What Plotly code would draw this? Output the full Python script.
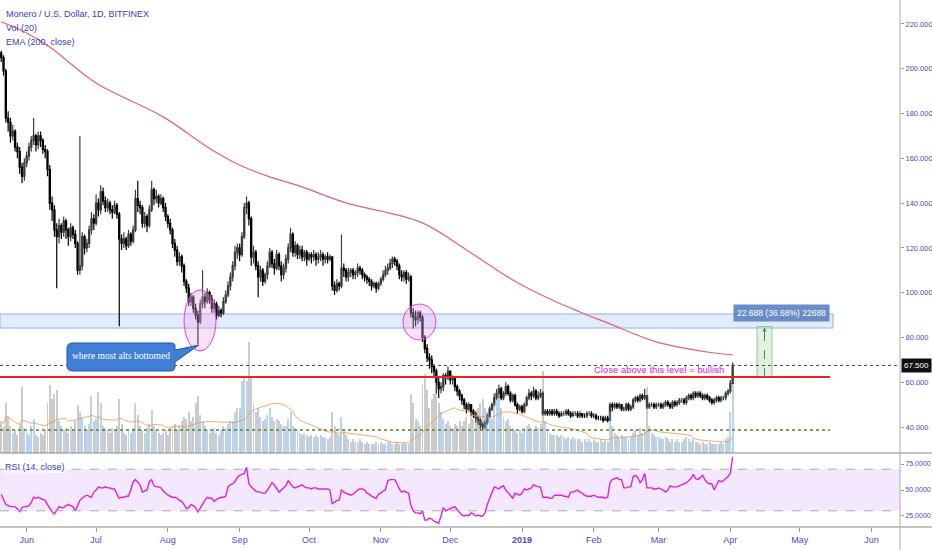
import pandas as pd
import plotly.graph_objects as go

# daily XMR/USD candles, Bitfinex, starting 2018-05-21
first_open = 207
closes = [
    205, 199, 178, 176, 170, 172, 165, 163, 156, 152,
    158, 161, 165, 168, 170, 166, 170, 168, 164, 163,
    155, 140, 137, 128, 125, 130, 127, 132, 128, 125,
    129, 126, 122, 110, 112, 125, 120, 122, 128, 133,
    131, 140, 137, 145, 141, 138, 140, 137, 136, 139,
    135, 124, 122, 124, 121, 126, 123, 128, 142, 139,
    138, 131, 134, 130, 137, 146, 142, 143, 140, 142,
    138, 134, 131, 128, 122, 119, 114, 116, 112, 105,
    102, 96, 98, 93, 90, 87, 95, 98, 96, 100,
    97, 93, 95, 90, 92, 91, 96, 99, 103, 107,
    112, 118, 120, 117, 125, 138, 140, 133, 116, 118,
    112, 107, 110, 105, 108, 112, 118, 113, 111, 117,
    112, 108, 111, 115, 120, 126, 118, 121, 117, 119,
    116, 118, 115, 117, 116, 117, 115, 116, 117, 115,
    116, 115, 116, 103, 101, 104, 103, 111, 110, 107,
    109, 110, 108, 109, 111, 110, 108, 107, 106, 105,
    103, 104, 102, 104, 106, 108, 110, 111, 113, 115,
    114, 112, 108, 107, 109, 106, 107, 91, 89, 88,
    91, 89, 80, 75, 71, 70, 67, 65, 60, 57,
    58, 63, 62, 65, 61, 62, 58, 56, 54, 52,
    50, 48, 50, 47, 46, 44, 43, 41, 40, 42,
    45, 48, 50, 53, 55, 57, 53, 55, 58, 55,
    52, 54, 50, 48, 49, 47, 50, 53, 55, 54,
    56, 53, 54, 55, 46, 47, 46, 47, 46, 47,
    46, 45, 46, 46, 47, 46, 45, 46, 46, 45,
    46, 45, 45, 46, 46, 45, 45, 44, 44, 44,
    43, 44, 43, 50, 49, 50, 49, 50, 48, 48,
    50, 48, 49, 52, 53, 52, 54, 53, 54, 49,
    50, 50, 49, 50, 50, 49, 50, 51, 50, 49,
    51, 50, 51, 52, 52, 51, 53, 54, 53, 55,
    54, 55, 54, 53, 54, 53, 52, 51, 52, 53,
    52, 53, 53, 55, 56, 59.5, 67.5,
]
highs = [
    208, 206, 200, 181, 178, 175, 173, 167, 165, 158,
    160, 163, 167, 170, 178, 171, 172, 172, 169, 166,
    164, 157, 143, 139, 131, 133, 131, 134, 133, 129,
    131, 130, 128, 123, 170, 127, 126, 124, 130, 136,
    135, 144, 142, 148, 147, 143, 142, 141, 139, 141,
    140, 136, 126, 127, 125, 128, 127, 130, 146, 150,
    141, 139, 136, 135, 139, 150, 147, 146, 144, 144,
    143, 140, 135, 133, 129, 124, 121, 118, 117, 113,
    106, 104, 100, 99, 95, 92, 97, 110, 100, 102,
    101, 99, 97, 96, 94, 93, 98, 101, 105, 109,
    114, 121, 122, 122, 127, 140, 143, 141, 134, 121,
    119, 114, 112, 111, 109, 114, 120, 119, 115, 119,
    118, 114, 113, 117, 122, 129, 127, 123, 122, 121,
    121, 119, 119, 118, 118, 119, 118, 118, 119, 118,
    117, 118, 117, 116, 105, 106, 105, 126, 113, 111,
    111, 111, 111, 110, 113, 112, 111, 109, 108, 107,
    106, 105, 105, 105, 107, 110, 112, 113, 115, 116,
    116, 115, 113, 110, 110, 110, 109, 108, 93, 92,
    92, 92, 90, 81, 77, 73, 72, 68, 66, 62,
    60, 64, 64, 67, 65, 63, 62, 59, 57, 55,
    53, 51, 51, 50, 48, 47, 45, 44, 42, 43,
    46, 49, 51, 55, 57, 59, 58, 56, 60, 59,
    56, 55, 55, 51, 50, 50, 51, 54, 57, 56,
    58, 57, 56, 57, 56, 48, 48, 48, 48, 48,
    48, 47, 47, 47, 48, 48, 47, 47, 47, 47,
    47, 46, 46, 47, 47, 47, 46, 46, 45, 45,
    45, 45, 45, 51, 51, 51, 51, 51, 50, 49,
    51, 51, 50, 53, 54, 54, 55, 55, 57, 54,
    51, 51, 51, 51, 51, 51, 51, 52, 52, 51,
    52, 52, 52, 53, 53, 53, 54, 55, 55, 56,
    56, 56, 56, 55, 55, 55, 54, 53, 53, 54,
    54, 54, 54, 56, 57, 61, 68.8,
]
lows = [
    203, 197, 176, 172, 167, 168, 163, 160, 153, 149,
    150, 156, 159, 163, 166, 163, 164, 165, 162, 160,
    152, 137, 132, 125, 102, 122, 124, 125, 124, 121,
    123, 124, 120, 108, 108, 110, 117, 118, 120, 126,
    128, 130, 134, 135, 139, 136, 136, 135, 133, 135,
    133, 85, 119, 120, 119, 120, 121, 122, 127, 136,
    135, 129, 129, 127, 129, 136, 139, 140, 138, 139,
    136, 132, 129, 126, 120, 116, 112, 112, 109, 103,
    100, 94, 94, 91, 88, 77, 86, 93, 93, 95,
    95, 91, 91, 88, 89, 89, 90, 95, 98, 101,
    105, 110, 115, 114, 116, 124, 135, 130, 112, 113,
    110, 98, 105, 103, 104, 106, 111, 111, 108, 110,
    110, 105, 106, 109, 113, 118, 116, 116, 115, 115,
    114, 114, 112, 114, 113, 114, 112, 113, 114, 112,
    113, 113, 114, 101, 99, 100, 101, 102, 107, 105,
    105, 107, 106, 106, 107, 108, 106, 105, 104, 103,
    101, 102, 100, 101, 103, 105, 107, 108, 110, 111,
    112, 110, 106, 105, 105, 104, 105, 89, 84, 85,
    86, 87, 78, 73, 69, 66, 64, 62, 55, 53,
    55, 56, 59, 61, 59, 59, 56, 54, 52, 50,
    48, 46, 47, 45, 44, 42, 41, 39, 38.5, 39,
    41, 44, 47, 49, 52, 53, 52, 52, 54, 54,
    51, 51, 49, 46, 47, 46, 46, 49, 52, 52,
    53, 52, 52, 53, 45, 45, 45, 45, 45, 45,
    45, 44, 45, 45, 45, 45, 44, 45, 45, 44,
    44, 44, 44, 44, 45, 44, 44, 43, 43, 43,
    42, 43, 42, 43, 47, 48, 48, 48, 47, 47,
    47, 47, 47, 48, 51, 51, 51, 52, 52, 48,
    48, 49, 48, 48, 49, 48, 48, 49, 49, 48,
    48, 49, 49, 50, 51, 50, 50, 52, 52, 52,
    53, 53, 53, 52, 52, 52, 51, 50, 50, 51,
    51, 51, 52, 52, 54, 55, 59,
]
# volume, thousand XMR
volumes = [
    14, 12, 22, 16, 12, 9, 10, 8, 13, 29,
    11, 9, 8, 12, 15, 8, 7, 9, 8, 10,
    22, 30, 24, 26, 28, 14, 12, 10, 11, 9,
    12, 10, 14, 21, 18, 16, 12, 10, 13, 25,
    14, 15, 27, 22, 12, 11, 10, 9, 11, 10,
    12, 24, 13, 9, 8, 10, 9, 11, 22, 17,
    12, 10, 9, 11, 13, 19, 12, 10, 9, 8,
    9, 10, 8, 11, 12, 13, 10, 12, 14, 16,
    15, 18, 14, 16, 22, 25, 17, 14, 12, 10,
    9, 10, 11, 9, 8, 10, 12, 11, 13, 14,
    14, 18, 20, 20, 32, 33, 32, 49, 33, 22,
    18, 20, 16, 14, 15, 17, 20, 16, 14, 15,
    14, 13, 12, 12, 15, 18, 12, 11, 10, 9,
    8, 9, 8, 7, 8, 7, 8, 7, 8, 7,
    7, 6, 7, 18, 12, 9, 8, 16, 10, 8,
    6, 5, 6, 5, 5, 6, 5, 4, 5, 4,
    4, 4, 5, 4, 5, 4, 4, 5, 5, 4,
    4, 5, 4, 4, 5, 4, 4, 26, 22, 15,
    14, 12, 30, 35, 28, 20, 24, 26, 30, 22,
    18, 15, 13, 14, 12, 11, 13, 12, 14, 12,
    14, 16, 13, 17, 15, 18, 20, 22, 24, 20,
    18, 16, 15, 22, 24, 26, 20, 16, 14, 15,
    12, 11, 10, 9, 10, 9, 11, 12, 13, 11,
    10, 12, 11, 13, 36, 14, 10, 9, 8, 8,
    8, 7, 8, 7, 6, 7, 6, 7, 6, 6,
    6, 5, 6, 5, 6, 5, 6, 5, 5, 6,
    5, 6, 5, 18, 12, 9, 8, 7, 8, 7,
    7, 6, 7, 9, 10, 8, 11, 9, 10, 29,
    12, 9, 8, 7, 7, 6, 6, 7, 6, 5,
    6, 5, 6, 5, 5, 6, 7, 6, 5, 6,
    5, 5, 4, 5, 4, 4, 5, 4, 4, 4,
    4, 5, 4, 6, 7, 18, 30,
]
rsi = [
    46, 40, 36, 35, 34, 34, 34, 32, 29, 33,
    34, 34, 35, 38, 43, 42, 43, 42, 41, 40,
    36, 32, 29, 27, 30, 34, 33, 33, 35, 36,
    35, 34, 30, 35, 40, 42, 44, 45, 44, 43,
    48, 50, 53, 52, 52, 53, 52, 52, 51, 51,
    46, 42, 43, 43, 44, 44, 50, 58, 60, 57,
    55, 48, 49, 50, 58, 60, 54, 53, 53, 52,
    49, 47, 45, 44, 43, 43, 42, 40, 39, 36,
    32, 33, 36, 35, 33, 29, 33, 37, 40, 43,
    42, 42, 39, 41, 42, 43, 43, 44, 53, 55,
    56, 58, 62, 64, 65, 66, 72, 56, 53, 51,
    49, 48, 48, 47, 47, 50, 53, 57, 55, 51,
    48, 50, 52, 54, 59, 56, 53, 52, 53, 54,
    55, 53, 52, 52, 51, 52, 52, 51, 51, 51,
    51, 51, 50, 37, 38, 40, 40, 50, 48, 47,
    46, 45, 46, 48, 50, 51, 51, 50, 47, 46,
    44, 43, 42, 46, 47, 49, 50, 59, 60, 60,
    60, 56, 51, 48, 49, 48, 47, 35, 30, 28,
    28, 27, 30, 21, 21, 23, 22, 20, 19, 18,
    25, 33, 30, 31, 32, 33, 34, 31, 28, 26,
    25, 26, 25, 28, 27, 25, 26, 25, 25, 28,
    36, 42, 48, 53, 52, 51, 53, 54, 50, 47,
    45, 42, 47, 46, 45, 47, 51, 50, 51, 52,
    55, 54, 53, 53, 43, 43, 43, 42, 42, 45,
    45, 45, 45, 44, 44, 43, 48, 48, 49, 50,
    48, 47, 45, 44, 44, 44, 45, 44, 43, 43,
    43, 42, 43, 57, 60, 61, 62, 60, 60, 52,
    52, 53, 53, 63, 64, 62, 57, 60, 66, 52,
    52, 52, 51, 51, 52, 51, 50, 48, 50, 54,
    53, 53, 53, 54, 55, 56, 57, 59, 61, 65,
    61, 60, 62, 64, 60, 57, 56, 56, 50, 54,
    59, 58, 59, 61, 63, 66, 82,
]
ema_dates = ["2018-05-21", "2018-06-01", "2018-06-11", "2018-07-01", "2018-07-30",
             "2018-08-18", "2018-09-01", "2018-09-14", "2018-09-27", "2018-10-17",
             "2018-11-18", "2018-12-08", "2018-12-28", "2019-01-14", "2019-01-26",
             "2019-02-07", "2019-02-28", "2019-03-22", "2019-04-02"]
ema_values = [221, 216, 209.7, 193.6, 178.5, 165.1, 157, 151.7, 147.6, 140.1,
              131.6, 119.1, 105.7, 96.7, 91.4, 86.5, 78, 73.5, 72.2]

month_ticks = ["2018-06-01", "2018-07-01", "2018-08-01", "2018-09-01", "2018-10-01",
               "2018-11-01", "2018-12-01", "2019-01-01", "2019-02-01", "2019-03-01",
               "2019-04-01", "2019-05-01", "2019-06-01"]
month_labels = ["Jun", "Jul", "Aug", "Sep", "Oct", "Nov", "Dec", "<b>2019</b>",
                "Feb", "Mar", "Apr", "May", "Jun"]

bull_level = 62.3
support_level = 38.7
last_price = 67.5
zone = (84.2, 90.5)

dates = pd.date_range("2018-05-21", periods=len(closes), freq="D")
opens = [first_open] + closes[:-1]
vol_ma = pd.Series(volumes).rolling(20, min_periods=1).mean()
vol_colors = ["rgba(105,160,215,0.45)" if c >= o else "rgba(140,140,140,0.45)"
              for o, c in zip(opens, closes)]

FONT = "Liberation Sans, Arial, sans-serif"
BLUE_TXT = "#3b3bbf"
TICK_TXT = "#4b4bc8"
XR = 900 / 932  # right edge of the panes in paper units

fig = go.Figure()

fig.add_trace(go.Bar(x=dates, y=volumes, marker_color=vol_colors, marker_line_width=0,
                     width=86400000 * 0.85, yaxis="y3", xaxis="x"))
fig.add_trace(go.Scatter(x=dates, y=vol_ma, mode="lines", yaxis="y3",
                         line=dict(color="rgba(240,140,60,0.75)", width=1)))
fig.add_trace(go.Candlestick(
    x=dates, open=opens, high=highs, low=lows, close=closes, yaxis="y",
    increasing=dict(line=dict(color="#3c3c3c", width=1.2), fillcolor="#9a9a9a"),
    decreasing=dict(line=dict(color="#000000", width=1.2), fillcolor="#000000"),
    whiskerwidth=0))
fig.add_trace(go.Scatter(x=ema_dates, y=ema_values, mode="lines", yaxis="y",
                         line=dict(color="rgba(222,80,115,0.9)", width=1.2, shape="spline")))
fig.add_trace(go.Scatter(x=dates, y=rsi, mode="lines", yaxis="y2",
                         line=dict(color="#dd22dd", width=1.4)))

shapes = [
    # support / resistance zone
    dict(type="rect", xref="paper", yref="y", x0=0, x1=833 / 932, y0=zone[0], y1=zone[1],
         fillcolor="rgba(190,210,245,0.45)", line=dict(color="rgba(120,160,230,0.8)", width=1),
         layer="below"),
    dict(type="line", xref="paper", yref="y", x0=0, x1=830 / 932, y0=bull_level, y1=bull_level,
         line=dict(color="#ee2020", width=2)),
    dict(type="line", xref="paper", yref="y", x0=0, x1=830 / 932, y0=support_level, y1=support_level,
         line=dict(color="#5d7f2a", width=1.5, dash="dot")),
    dict(type="line", xref="paper", yref="y", x0=0, x1=XR, y0=last_price, y1=last_price,
         line=dict(color="#444444", width=1, dash="dot")),
    # circles around the bottoms
    dict(type="circle", xref="x", yref="y", x0="2018-08-08", x1="2018-08-21 19:00", y0=74, y1=101.2,
         fillcolor="rgba(235,170,235,0.35)", line=dict(color="#e040e0", width=1)),
    dict(type="circle", xref="x", yref="y", x0="2018-11-10 14:00", x1="2018-11-24 19:00", y0=78.9, y1=94.9,
         fillcolor="rgba(235,170,235,0.35)", line=dict(color="#e040e0", width=1)),
    # price range measure
    dict(type="rect", xref="x", yref="y", x0="2019-04-12 12:00", x1="2019-04-19", y0=bull_level, y1=84.9,
         fillcolor="rgba(190,225,190,0.45)", line=dict(color="rgba(120,180,120,0.7)", width=1), layer="below"),
    dict(type="line", xref="x", yref="y", x0="2019-04-15 18:00", x1="2019-04-15 18:00", y0=bull_level, y1=84.5,
         line=dict(color="#4a8a4a", width=1, dash="dash")),
    # callout bubble
    dict(type="path", xref="paper", yref="paper",
         path="M 0.0783 0.3764 L 0.1835 0.3764 Q 0.1878 0.3764 0.1878 0.3709 L 0.1878 0.3636 "
              "L 0.2135 0.3727 L 0.1878 0.3418 L 0.1878 0.3345 Q 0.1878 0.3255 0.1835 0.3255 "
              "L 0.0783 0.3255 Q 0.0719 0.3255 0.0719 0.3345 L 0.0719 0.3673 Q 0.0719 0.3764 0.0783 0.3764 Z",
         fillcolor="#3f7fd6", line=dict(color="#2a55a0", width=1)),
    # RSI band
    dict(type="rect", xref="paper", yref="y2", x0=0, x1=XR, y0=30, y1=70,
         fillcolor="rgba(215,180,250,0.3)", line=dict(width=0), layer="below"),
    dict(type="line", xref="paper", yref="y2", x0=0, x1=XR, y0=70, y1=70,
         line=dict(color="#aaaaaa", width=1, dash="dash")),
    dict(type="line", xref="paper", yref="y2", x0=0, x1=XR, y0=30, y1=30,
         line=dict(color="#aaaaaa", width=1, dash="dash")),
    # pane separators and price scale border
    dict(type="line", xref="paper", yref="paper", x0=0, x1=1, y0=1 - 453 / 550, y1=1 - 453 / 550,
         line=dict(color="#8a8a8a", width=1.2)),
    dict(type="line", xref="paper", yref="paper", x0=0, x1=1, y0=1 - 527 / 550, y1=1 - 527 / 550,
         line=dict(color="#8a8a8a", width=1.2)),
    dict(type="line", xref="paper", yref="paper", x0=XR, x1=XR, y0=0, y1=1,
         line=dict(color="#aaaaaa", width=1)),
]

annotations = [
    dict(xref="paper", yref="paper", x=0.004, y=1 - 14 / 550, xanchor="left", yanchor="middle",
         text="Monero / U.S. Dollar, 1D, BITFINEX", showarrow=False,
         font=dict(family=FONT, size=9, color=BLUE_TXT)),
    dict(xref="paper", yref="paper", x=0.004, y=1 - 28 / 550, xanchor="left", yanchor="middle",
         text="Vol (20)", showarrow=False, font=dict(family=FONT, size=9, color=BLUE_TXT)),
    dict(xref="paper", yref="paper", x=0.004, y=1 - 42 / 550, xanchor="left", yanchor="middle",
         text="EMA (200, close)", showarrow=False, font=dict(family=FONT, size=9, color=BLUE_TXT)),
    dict(xref="paper", yref="paper", x=0.003, y=1 - 467 / 550, xanchor="left", yanchor="middle",
         text="RSI (14, close)", showarrow=False, bgcolor="rgba(255,255,255,0.6)",
         font=dict(family=FONT, size=9, color=BLUE_TXT)),
    dict(xref="paper", yref="paper", x=121 / 932, y=1 - 356 / 550, xanchor="center", yanchor="middle",
         text="where most alts bottomed", showarrow=False,
         font=dict(family="Liberation Serif, Times New Roman, serif", size=9.5, color="white")),
    dict(xref="paper", yref="y", x=726 / 932, y=bull_level + 3.2, xanchor="right", yanchor="middle",
         text="Close above this level = bullish", showarrow=False,
         font=dict(family=FONT, size=9.5, color="#e020e0")),
    dict(xref="paper", yref="paper", x=781 / 932, y=1 - 313 / 550, xanchor="center", yanchor="middle",
         text="22.688 (36.68%) 22688", showarrow=False, bgcolor="rgba(90,130,195,0.9)",
         borderpad=3, font=dict(family=FONT, size=8.5, color="white")),
    dict(xref="paper", yref="y", x=XR + 0.001, y=last_price, xanchor="left", yanchor="middle",
         text="67.500", showarrow=False, bgcolor="#111111", borderpad=2,
         font=dict(family=FONT, size=8, color="white")),
    dict(xref="x", yref="y", x="2019-04-15 18:00", y=84.5, ax="2019-04-15 18:00", ay=80,
         axref="x", ayref="y", text="", showarrow=True, arrowhead=2, arrowsize=0.8,
         arrowwidth=1, arrowcolor="#4a8a4a"),
]

fig.update_layout(
    width=932, height=550,
    margin=dict(l=0, r=0, t=0, b=0, autoexpand=False),
    paper_bgcolor="white", plot_bgcolor="white",
    showlegend=False, bargap=0,
    shapes=shapes, annotations=annotations,
    xaxis=dict(domain=[0, XR], anchor="y2", type="date", automargin=False,
               range=["2018-05-20 11:35", "2019-06-13 07:00"],
               tickvals=month_ticks, ticktext=month_labels,
               ticks="outside", ticklen=4, tickcolor="#999999",
               tickfont=dict(family=FONT, size=9, color=TICK_TXT),
               showgrid=False, zeroline=False, rangeslider=dict(visible=False)),
    yaxis=dict(domain=[1 - 453 / 550, 1], anchor="x", side="right", automargin=False,
               range=[28.4, 230.7], tickvals=list(range(40, 221, 20)), tickformat=".3f",
               ticks="outside", ticklen=3, tickcolor="#999999",
               tickfont=dict(family=FONT, size=7.5, color=TICK_TXT),
               showgrid=False, zeroline=False),
    yaxis2=dict(domain=[1 - 527 / 550, 1 - 453 / 550], anchor="x", side="right", automargin=False,
                range=[14.4, 85.6], tickvals=[25, 50, 75], tickformat=".4f",
                ticks="outside", ticklen=3, tickcolor="#999999",
                tickfont=dict(family=FONT, size=7, color=TICK_TXT),
                showgrid=False, zeroline=False),
    yaxis3=dict(domain=[1 - 453 / 550, 1], overlaying="y", anchor="x", range=[0, 200],
                visible=False),
)

# drop the page's default body margin so the figure sits at the window's corner
fig.write_html("out.html", config={"displayModeBar": False},
               post_script="document.body.style.margin='0px';")
